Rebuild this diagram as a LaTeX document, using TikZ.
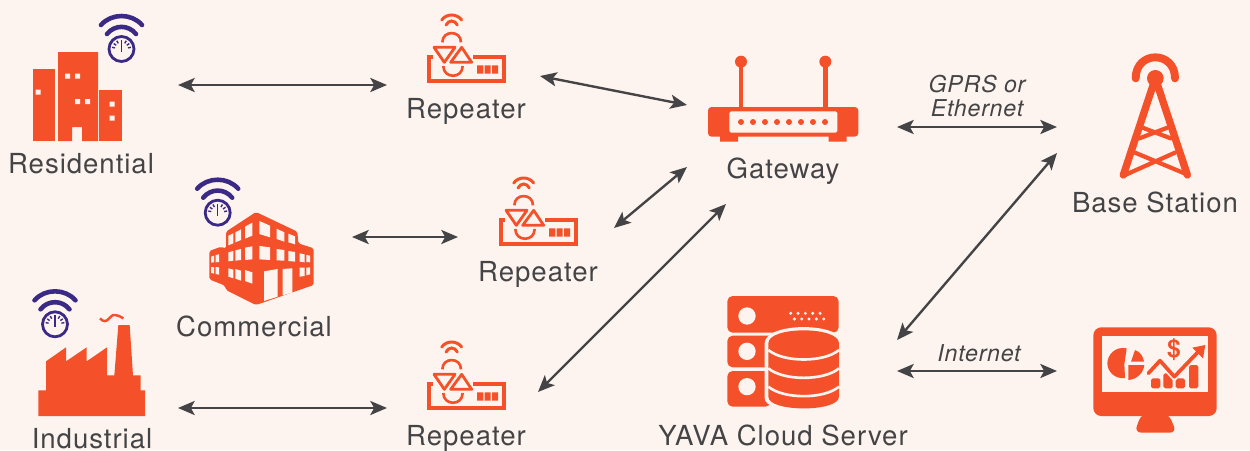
\documentclass[tikz,border=0pt]{standalone}
\usepackage{fontspec}
\setmainfont{TeX Gyre Heros}[LetterSpace=3.5]
\usetikzlibrary{arrows.meta}
\definecolor{bgtone}{HTML}{FEF4EF}
\definecolor{iconred}{HTML}{F4512A}
\definecolor{wifiblue}{HTML}{3B2A85}
\definecolor{inkgray}{HTML}{444446}

\begin{document}
\begin{tikzpicture}[x=0.02cm,y=-0.02cm]
        \tikzset{devlabel/.style={text=inkgray, anchor=base, font=\fontsize{15.7}{18}\selectfont, inner sep=0pt}}
        \tikzset{linklabel/.style={text=inkgray, align=center, font=\fontsize{13.2}{13.6}\selectfont\itshape, inner sep=0pt}}
        \tikzset{connector/.style={{Stealth[length=9.5pt,width=8pt,inset=2.2pt]}-{Stealth[length=9.5pt,width=8pt,inset=2.2pt]}, inkgray, line width=1.35pt}}
        \tikzset{meter/.pic={
                \draw[wifiblue, line width=2.6pt, line cap=round] (-20.5,-24) .. controls (-10,-36) and (10,-36) .. (20.5,-24);
                \draw[wifiblue, line width=2.6pt, line cap=round] (-14.5,-15) .. controls (-7,-24.5) and (7,-24.5) .. (14.5,-15);
                \draw[wifiblue, line width=1.6pt] (0,0) circle (12.5);
                \draw[wifiblue, line width=0.8pt] (0,-9) -- (0,3);
                \foreach \ang in {-170,-145,-120,-60,-35,-10}
                        \draw[wifiblue, line width=0.8pt] (\ang:6.5) -- (\ang:9.5);
        }}
        \tikzset{repeater/.pic={
                \begin{scope}[scale=1/3]
                \draw[iconred, line width=2.2pt] (70,141) -- (56,141) -- (56,214) -- (282,214) -- (282,141) -- (190,141);
                \fill[iconred] (201,166) rectangle (220,191) (224,166) rectangle (242,191) (246,166) rectangle (264,191);
                \draw[iconred, line width=1.7pt, line cap=round] (95,30) .. controls (110,10) and (140,10) .. (155,30);
                \draw[iconred, line width=1.7pt, line cap=round] (108,45) .. controls (116,29) and (134,29) .. (142,45);
                \draw[iconred, line width=1.5pt] (97,97) .. controls (97,60) and (153,60) .. (153,97);
                \draw[iconred, line width=1.5pt] (100,168) .. controls (100,207) and (158,207) .. (158,168);
                \draw[iconred, line width=1.6pt, line join=round] (72,112) -- (135,112) -- (103,157) -- cycle;
                \draw[iconred, line width=1.6pt, line join=round] (155,112) -- (185,157) -- (122,157) -- cycle;
                \end{scope}
        }}

        \fill[bgtone] (0,0) rectangle (1250,450);
        \useasboundingbox (0,0) rectangle (1250,450);

        % residential
        \fill[iconred] (33,69) rectangle (55,141);
        \fill[iconred] (58,52) -- (98,52) -- (98,141) -- (82,141) -- (82,127) -- (72,127) -- (72,141) -- (58,141) -- cycle;
        \fill[iconred] (99,90) rectangle (122,141);
        \fill[bgtone] (35.5,89.5) rectangle +(5,5) (65,73.5) rectangle +(5,5) (75,73.5) rectangle +(5,5)
                (75,99) rectangle +(5,5) (85,99) rectangle +(5,5) (109.5,101.5) rectangle +(5,5) (109.5,115.5) rectangle +(5,5);
        \pic (metera) at (121.5,49) {meter};
        \node[devlabel] (residential) at (81,173) {Residential};

        % commercial
        \begin{scope}[shift={(190,170)},scale=1/3]
        \fill[iconred, rounded corners=1pt] (198,126) -- (322,185) -- (325,220) -- (371,235) -- (371,345) -- (198,405) -- (108,360) -- (105,347) -- (58,328) -- (58,243) -- (93,230) -- (108,236) -- (108,185) -- cycle;
        \fill[bgtone] (115,197) -- (130,190) -- (130,220) -- (115,226) -- cycle
                (136,187) -- (153,178) -- (153,210) -- (136,217) -- cycle
                (165,170) -- (187,158) -- (187,197) -- (165,206) -- cycle
                (208,153) -- (240,167) -- (240,202) -- (208,192) -- cycle
                (260,176) -- (283,187) -- (283,215) -- (260,207) -- cycle
                (295,191) -- (315,199) -- (315,223) -- (295,217) -- cycle
                (115,247) -- (130,243) -- (130,272) -- (115,274) -- cycle
                (136,241) -- (153,237) -- (153,270) -- (136,272) -- cycle
                (165,233) -- (187,229) -- (187,268) -- (165,270) -- cycle
                (208,228) -- (240,232) -- (240,270) -- (208,268) -- cycle
                (260,237) -- (283,240) -- (283,272) -- (260,271) -- cycle
                (295,243) -- (315,246) -- (315,275) -- (295,273) -- cycle
                (115,295) -- (130,299) -- (130,325) -- (115,320) -- cycle
                (136,297) -- (153,302) -- (153,332) -- (136,326) -- cycle
                (165,300) -- (187,307) -- (187,341) -- (165,333) -- cycle
                (222,304) -- (263,297) -- (263,380) -- (222,393) -- cycle
                (278,297) -- (307,295) -- (307,368) -- (278,376) -- cycle
                (63,260) -- (72,257) -- (72,277) -- (63,278) -- cycle
                (77,255) -- (87,253) -- (87,276) -- (77,277) -- cycle
                (63,291) -- (72,292) -- (72,311) -- (63,308) -- cycle
                (77,291) -- (87,292) -- (87,314) -- (77,312) -- cycle
                (329,250) -- (344,253) -- (344,277) -- (329,275) -- cycle
                (349,255) -- (360,257) -- (360,277) -- (349,276) -- cycle
                (329,293) -- (344,293) -- (344,318) -- (329,320) -- cycle
                (349,293) -- (360,292) -- (360,313) -- (349,316) -- cycle;
        \end{scope}
        \pic (meterb) at (217.7,212.7) {meter};
        \node[devlabel] (commercial) at (254,336) {Commercial};

        % industrial
        \begin{scope}[shift={(20,285)},scale=1/3]
        \fill[iconred] (55,393) -- (55,316) -- (78,316) -- (78,229) -- (138,187) -- (138,229) -- (200,187) -- (200,229) -- (261,187) -- (261,271) -- (283,271) -- (295,120) -- (329,120) -- (339,271) -- (362,271) -- (362,316) -- (375,316) -- (375,393) -- cycle;
        \draw[iconred, line width=1.4pt] (240,100) .. controls (262,125) and (270,85) .. (285,90) .. controls (295,90) and (300,95) .. (310,100);
        \end{scope}
        \pic (meterc) at (55,324.3) {meter};
        \node[devlabel] (industrial) at (92,448) {Industrial};

        % repeaters
        \pic (repa) at (410,10) {repeater};
        \node[devlabel] (repalabel) at (466,118) {Repeater};
        \pic (repb) at (482,173) {repeater};
        \node[devlabel] (repblabel) at (538,281) {Repeater};
        \pic (repc) at (410,337) {repeater};
        \node[devlabel] (repclabel) at (466,445) {Repeater};

        % gateway
        \begin{scope}[shift={(700,50)},scale=1/3]
        \draw[iconred, line width=2.7pt] (123,171) -- (123,35) (376,171) -- (376,35);
        \fill[iconred] (123,35) circle (18) (376,35) circle (18);
        \fill[iconred] (60,255) rectangle (114,275) (386,255) rectangle (440,275);
        \fill[iconred, rounded corners=2pt] (24,171) rectangle (475,260);
        \fill[bgtone, rounded corners=1pt] (88,184) rectangle (412,248);
        \foreach \dotx in {123,159,195,231,267,303,339,375}
                \fill[iconred] (\dotx,216) circle (9);
        \end{scope}
        \node[devlabel] (gateway) at (783,178) {Gateway};

        % base station
        \begin{scope}[shift={(1100,50)},scale=1/3]
        \draw[iconred, line width=4.5pt, line cap=round] (107,85) .. controls (107,1) and (225,1) .. (225,85);
        \draw[iconred, line width=2.4pt, line cap=round] (125,232) -- (212,265) (205,232) -- (118,265) (105,308) -- (258,372) (225,308) -- (75,375);
        \draw[iconred, line width=4.2pt, line cap=round, line join=round] (70,375) -- (166,85) -- (262,375);
        \fill[iconred] (166,85) circle (25);
        \end{scope}
        \node[devlabel] (basestation) at (1155,212) {Base Station};

        % server
        \begin{scope}[shift={(720,290)},scale=1/3]
        \fill[iconred, rounded corners=3pt] (22,18) rectangle (356,128);
        \fill[iconred, rounded corners=3pt] (22,137) rectangle (170,232);
        \fill[iconred, rounded corners=3pt] (22,243) rectangle (152,350);
        \fill[bgtone] (81,78) circle (26) (81,184) circle (26) (81,290) circle (26);
        \foreach \dotx in {212,234,256,278,300}
                \fill[bgtone] (\dotx,70) circle (5) (\dotx+11,87) circle (5);
        \fill[bgtone] (134,160) .. controls (134,95) and (368,95) .. (368,160) -- (368,325) .. controls (368,375) and (134,375) .. (134,325) -- cycle;
        \fill[iconred] (145,160) .. controls (145,108) and (357,108) .. (357,160) -- (357,320) .. controls (357,367) and (145,367) .. (145,320) -- cycle;
        \foreach \bandy in {180,235,290}
                \draw[bgtone, line width=1.5pt] (145,\bandy) .. controls (190,\bandy+38) and (312,\bandy+38) .. (357,\bandy);
        \end{scope}
        \node[devlabel] (server) at (783,445) {YAVA Cloud Server};

        % monitor
        \begin{scope}[shift={(1085,320)},scale=1/3]
        \fill[iconred, rounded corners=4pt] (170,280) -- (250,280) -- (275,338) -- (148,338) -- cycle;
        \fill[iconred, rounded corners=4.5pt] (25,22) rectangle (395,288);
        \fill[bgtone] (50,47) rectangle (370,215);
        \fill[iconred] (125,85) .. controls (90,78) and (67,105) .. (67,130) .. controls (67,155) and (90,178) .. (120,174) -- (118,132) -- cycle;
        \fill[iconred] (150,90) .. controls (165,95) and (175,110) .. (177,125) -- (138,125) -- cycle;
        \fill[iconred] (130,135) -- (178,135) .. controls (175,160) and (155,178) .. (130,180) -- cycle;
        \fill[iconred, rounded corners=1pt] (198,175) rectangle (226,205) (235,160) rectangle (263,205) (272,175) rectangle (300,205) (312,135) rectangle (340,205);
        \draw[bgtone, line width=4pt] (190,160) -- (225,122) -- (268,170) -- (340,95);
        \draw[iconred, line width=2.1pt, line cap=round, line join=round] (190,160) -- (225,122) -- (268,170) -- (340,95);
        \fill[iconred] (322,83) -- (361,75) -- (354,115) -- cycle;
        \node[text=iconred, inner sep=0pt, font=\fontsize{14}{14}\selectfont\bfseries] (dollar) at (267,90) {\$};
        \end{scope}

        % connector end points
        \coordinate (resend) at (178,85);
        \coordinate (repaW) at (387,85);
        \coordinate (repaE) at (540,76);
        \coordinate (gateW) at (687,105);
        \coordinate (comend) at (352,237);
        \coordinate (repbW) at (458,237);
        \coordinate (repbE) at (614,228);
        \coordinate (gateSW) at (687,167);
        \coordinate (indend) at (178,408);
        \coordinate (repcW) at (387,408);
        \coordinate (repcE) at (538,392);
        \coordinate (gateS) at (726,204);
        \coordinate (gateE) at (897,127);
        \coordinate (baseW) at (1057,127);
        \coordinate (serverNE) at (897,340);
        \coordinate (baseSW) at (1057,153);
        \coordinate (serverE) at (897,371);
        \coordinate (monitorW) at (1057,371);

        \draw[connector] (resend) -- (repaW);
        \draw[connector] (repaE) -- (gateW);
        \draw[connector] (comend) -- (repbW);
        \draw[connector] (repbE) -- (gateSW);
        \draw[connector] (indend) -- (repcW);
        \draw[connector] (repcE) -- (gateS);
        \draw[connector] (gateE) -- (baseW);
        \draw[connector] (serverNE) -- (baseSW);
        \draw[connector] (serverE) -- (monitorW);

        \node[linklabel] (gprs) at (977,96) {GPRS or\\Ethernet};
        \node[linklabel] (internet) at (979,353) {Internet};
\end{tikzpicture}
\end{document}
